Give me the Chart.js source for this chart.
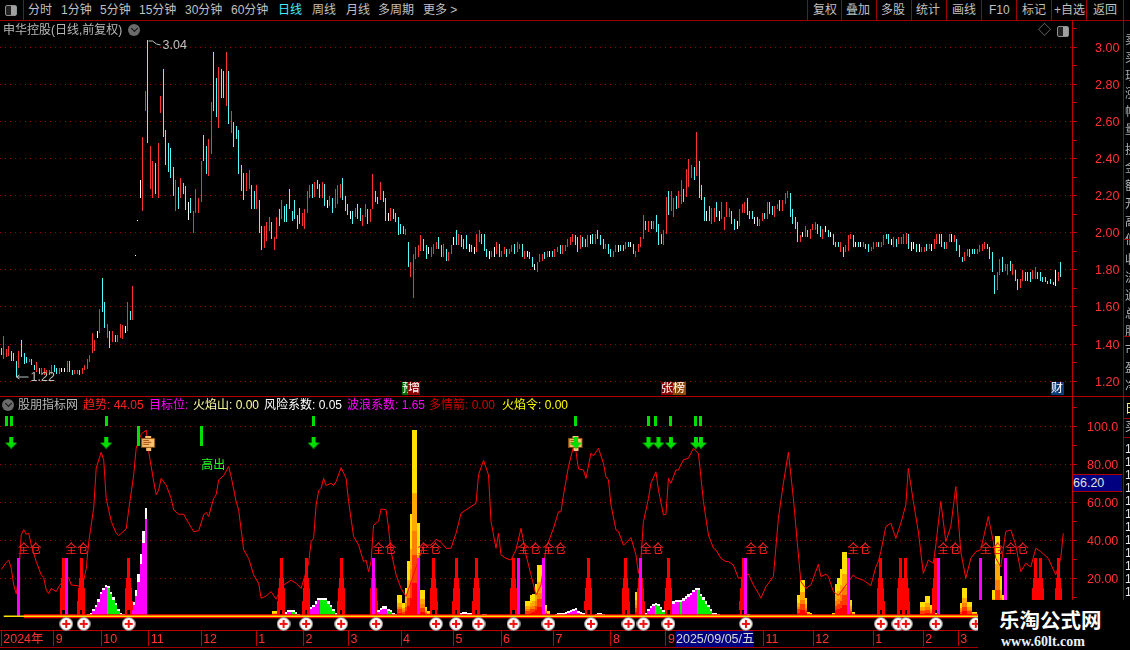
<!DOCTYPE html>
<html lang="zh">
<head>
<meta charset="utf-8">
<title>申华控股</title>
<script src="https://cdn.jsdelivr.net/npm/chart.js@4"></script>
<style>
html,body{margin:0;padding:0;background:#000;overflow:hidden}
#stage{position:relative;width:1130px;height:650px;background:#000;overflow:hidden;font-family:"Liberation Sans","Noto Sans CJK SC",sans-serif;font-size:12px;color:#c0c0c0}
canvas{position:absolute;left:0;display:block}
.t{position:absolute;white-space:nowrap;line-height:14px}
.l{position:absolute;background:#b00000}
.b{position:absolute;overflow:hidden;color:#fff;line-height:13px;font-size:12px;white-space:nowrap}
</style>
</head>
<body>
<div id="stage">
<canvas id="priceCanvas" width="1130" height="375" style="top:21px"></canvas>
<canvas id="indCanvas" width="1130" height="254" style="top:396px"></canvas>
<div id="chrome"></div>
</div>
<script>
/* ---------- candles: high / low / kind (r up, c down, w flat) ---------- */
const highsA=[1.38,1.445,1.375,1.39,1.36,1.35,1.31,1.365,1.42,1.35,
1.33,1.32,1.32,1.285,1.305,1.27,1.27,1.27,1.26,1.26,
1.285,1.285,1.27,1.27,1.27,1.27,1.31,1.31,1.26,1.26,
1.26,1.26,1.27,1.285,1.32,1.34,1.46,1.42,1.47,1.59,
1.755,1.625,1.51,1.47,1.47,1.45,1.45,1.51,1.505,1.495,
1.625,1.58,1.715,1.88,2.07,2.283,2.515,2.765,3.04,2.47,
2.385,2.375,2.483,2.735,2.883,2.553,2.483,2.455,2.353,2.283,
2.245,2.294,2.27,2.255,2.165,2.19,2.115,2.235,2.19,2.385,
2.53,2.47,2.505,2.705,2.975,2.835,2.895,2.885,2.87,2.975,
2.87,2.655,2.6,2.575,2.553,2.365,2.325,2.325,2.34,2.26,
2.225,2.26,2.175,2.035,2.035,2.06,2.085,2.06,1.975,2.085];
const lowsA=[1.34,1.32,1.33,1.335,1.31,1.31,1.22,1.27,1.33,1.295,
1.30,1.305,1.285,1.26,1.25,1.24,1.235,1.235,1.235,1.235,
1.24,1.25,1.24,1.24,1.25,1.25,1.25,1.25,1.235,1.24,
1.24,1.235,1.24,1.26,1.265,1.305,1.35,1.365,1.435,1.46,
1.575,1.485,1.435,1.38,1.41,1.41,1.41,1.435,1.425,1.46,
1.47,1.53,1.53,1.875,2.065,2.186,2.115,2.655,2.483,2.235,
2.19,2.21,2.19,2.645,2.515,2.365,2.33,2.295,2.2,2.115,
2.13,2.186,2.21,2.125,2.07,2.105,2.0,2.105,2.105,2.165,
2.385,2.315,2.305,2.425,2.655,2.625,2.565,2.725,2.725,2.685,
2.585,2.54,2.465,2.505,2.315,2.225,2.175,2.225,2.235,2.13,
2.13,2.13,2.0,1.905,1.92,1.955,2.01,1.965,1.905,1.965];
const kindsA="crrrcccrcc"+"crccrcrrrr"+"rccrwwrccr"+"rcrrrrrrwr"+"ccrcrcrrrw"+"rcrwwwrrcr"+"rcrrcccccr"+"crccwcrrrr"+"ccrrccrccr"+"crcccccrrc"+"crccrrrcrr";

const highsB=[2.126,2.175,2.142,2.153,2.234,2.115,2.175,2.094,2.132,2.105,
2.126,2.223,2.256,2.261,2.272,2.283,2.261,2.272,2.261,2.175,
2.2,2.186,2.234,2.256,2.261,2.294,2.2,2.153,2.115,2.115,
2.132,2.153,2.132,2.094,2.153,2.126,2.126,2.315,2.223,2.191,
2.272,2.223,2.186,2.105,2.132,2.126,2.105,2.083,2.045,2.034,
2.023,1.953,1.845,1.883,1.921,1.932,1.986,1.964,1.932,1.921,
1.921,1.942,1.953,1.975,1.932,1.942,1.915,1.894,1.932,1.975,
2.013,1.991,1.986,1.964,1.986,1.942,1.932,1.921,1.991,2.013,
1.991,1.991,1.915,1.904,1.904,1.921,1.953,1.942,1.904,1.921,
1.915,1.915,1.932,1.942,1.953,1.942,1.942,1.904,1.904,1.894,
1.872,1.834,1.845,1.883,1.883,1.894,1.904,1.904,1.904,1.915,
1.921];
const lowsB=[2.034,2.072,2.056,2.056,2.126,2.061,2.072,2.023,2.045,2.034,
2.023,2.105,2.186,2.186,2.191,2.234,2.186,2.186,2.142,2.132,
2.142,2.105,2.132,2.153,2.186,2.175,2.115,2.094,2.072,2.045,
2.083,2.072,2.061,2.034,2.083,2.045,2.056,2.126,2.164,2.153,
2.175,2.164,2.061,2.061,2.061,2.072,2.056,1.986,1.991,1.991,
1.986,1.813,1.764,1.65,1.861,1.872,1.904,1.904,1.861,1.883,
1.872,1.883,1.915,1.915,1.872,1.872,1.85,1.85,1.883,1.932,
1.932,1.932,1.926,1.915,1.915,1.894,1.894,1.883,1.894,1.953,
1.942,1.904,1.872,1.861,1.872,1.872,1.883,1.872,1.872,1.883,
1.872,1.883,1.894,1.883,1.894,1.915,1.872,1.861,1.872,1.861,
1.813,1.802,1.786,1.845,1.85,1.861,1.872,1.872,1.872,1.872,
1.894];
const kindsB="crcccccccr"+"rrrcrccrcw"+"rcrrrcccwc"+"rccrrcrrcc"+"rccwrccccc"+"rcrrrrrccw"+"rrrccrcrrw"+"crcccwcwrr"+"cccwrwrcrr"+"crrcrrcrwc"+"cwrrrcrwcr"+"r";

const highsC=[1.932,1.932,1.932,1.964,1.975,1.991,1.986,1.975,1.986,1.975,
1.964,1.986,1.986,1.991,1.991,2.013,1.986,1.964,1.942,1.942,
1.915,1.904,1.932,1.932,1.932,1.932,1.953,1.953,1.953,1.942,
1.904,1.942,1.975,2.094,2.061,2.061,2.061,2.061,2.094,2.045,
1.991,2.013,2.191,2.223,2.223,2.186,2.2,2.223,2.283,2.234,
2.342,2.396,2.364,2.353,2.542,2.386,2.256,2.191,2.115,2.142,
2.132,2.132,2.164,2.115,2.164,2.083,2.164,2.132,2.115,2.072,
2.061,2.126,2.153,2.164,2.186,2.115,2.115,2.083,2.083,2.072,
2.105,2.105,2.164,2.164,2.142,2.142,2.153,2.175,2.175,2.213,
2.223,2.213,2.126,2.083,2.056,1.986,2.002,2.034,2.013,2.023,
2.045,2.056,2.045,2.034,2.023,2.034,2.013,2.002,1.991,1.953];
const lowsC=[1.883,1.883,1.904,1.921,1.932,1.953,1.932,1.894,1.915,1.921,
1.921,1.921,1.942,1.942,1.942,1.964,1.932,1.915,1.915,1.883,
1.872,1.872,1.894,1.894,1.904,1.904,1.915,1.921,1.921,1.883,
1.872,1.894,1.921,1.964,2.013,2.002,2.023,2.023,2.002,1.932,
1.942,1.932,1.991,2.094,2.115,2.083,2.126,2.132,2.153,2.164,
2.191,2.245,2.294,2.283,2.304,2.186,2.175,2.061,2.061,2.061,
2.045,2.056,2.083,2.061,2.072,2.013,2.083,2.083,2.045,2.013,
2.023,2.034,2.105,2.105,2.094,2.072,2.072,2.045,2.034,2.034,
2.061,2.072,2.072,2.099,2.094,2.083,2.126,2.115,2.115,2.153,
2.186,2.083,2.045,2.023,1.953,1.953,1.975,1.975,1.975,1.964,
2.013,2.013,1.991,1.975,1.964,2.002,1.975,1.975,1.932,1.921];
const kindsC="crrrrrccrc"+"crwcrcccrc"+"crrwccrcwc"+"rrrrcrcrcc"+"crrcrrcrrc"+"rrrcrcccwc"+"rrcwrrrrcc"+"wrrrcccwcr"+"rcrccrrcrr"+"rccccrwrcr"+"rrccrwcwcc";

const highsD=[1.953,1.953,1.921,1.932,1.986,1.991,1.986,1.953,1.953,1.953,1.953,1.942,1.937,1.921,1.953,1.953,1.953,1.953,1.986,1.991,1.991,1.964,1.975,1.964,1.975,1.975,1.991,2.0,1.991,1.953,1.953,1.942,1.937,1.921,1.921,1.942,1.942,1.942,1.964,1.991,1.991,1.991,1.953,1.953,1.991,1.991,1.986,1.964,1.932,1.872,1.894,1.915,1.91,1.915,1.915,1.915,1.932,1.937,1.953,1.937,1.921,1.894,1.775,1.786,1.861,1.872,1.834,1.834,1.85,1.834,1.802,1.753,1.753,1.802,1.791,1.786,1.791,1.802,1.813,1.786,1.786,1.759,1.764,1.742,1.753,1.732,1.802,1.791,1.845];
const lowsD=[1.921,1.894,1.872,1.894,1.904,1.964,1.926,1.921,1.926,1.926,1.921,1.915,1.894,1.904,1.915,1.921,1.926,1.926,1.932,1.964,1.937,1.932,1.926,1.921,1.942,1.937,1.942,1.942,1.91,1.904,1.91,1.894,1.899,1.894,1.899,1.904,1.91,1.904,1.915,1.942,1.942,1.926,1.915,1.915,1.953,1.953,1.953,1.904,1.872,1.845,1.85,1.877,1.872,1.888,1.883,1.883,1.894,1.904,1.915,1.91,1.861,1.786,1.672,1.694,1.775,1.786,1.796,1.775,1.796,1.775,1.742,1.694,1.705,1.742,1.742,1.742,1.732,1.753,1.753,1.753,1.742,1.737,1.732,1.726,1.726,1.721,1.715,1.742,1.764];
const kindsD="crcrrrcwcwrccrrrcrrccwrcrrrrcwwcwrrcrwrrcccrrwrcccrrcccrrrrcccc"+"rrcrrcrccrrcccrrccc"+"ccccwrcr";

/* ---------- axes ---------- */
const priceTicks=[1.2,1.3,1.4,1.5,1.6,1.7,1.8,1.9,2.0,2.1,2.2,2.3,2.4,2.5,2.6,2.7,2.8,2.9,3.0,3.1];
const priceTickLabels={1.2:"1.20",1.4:"1.40",1.6:"1.60",1.8:"1.80",2:"2.00",2.2:"2.20",2.4:"2.40",2.6:"2.60",2.8:"2.80",3:"3.00"};
const indTicks=[10,20,30,40,50,60,70,80,90,100,110];
const indTickLabels={20:"20.00",40:"40.00",60:"60.00",80:"80.00",100:"100.0"};
const monthIdx=[0,21,40,59,80,102,121,139,160,181,200,221,244,266,305,325,349,369,383];
const monthLabels=["2024年","9","10","11","12","1","2","3","4","5","6","7","8","9","11","12","1","2","3"];

/* ---------- indicator pane: trend line ---------- */
const trendIdx=[0,2,3,4,5,6,7,8,9,10,11,12,14,16,17,18,19,20,22,23,25,27,28,31,32,34,35,37,38,40,41,42,44,46,47,50,51,53,54,56,58,59,61,62,63,64,66,68,69,71,73,75,77,79,81,82,83,85,86,87,89,91,92,94,95,97,99,101,103,104,106,108,110,111,
113,116,118,120,123,124,125,126,127,128,129,130,132,133,134,136,138,139,141,143,145,146,147,148,149,151,152,154,155,156,158,160,162,169,172,174,176,178,180,182,184,186,188,190,191,193,195,196,198,199,200,202,204,206,208,210,212,214,216,218,221,223,
224,225,227,229,230,231,233,234,236,237,239,241,242,243,244,246,247,249,250,252,254,255,256,257,259,260,262,263,265,266,267,268,270,271,273,275,277,279,281,283,285,286,288,290,291,293,295,297,299,301,303,304,306,309,311,313,315,317,319,320,322,324,327,328,330,331,333,335,
341,342,345,348,350,351,352,354,356,358,360,362,363,365,367,369,371,373,374,376,378,380,382,384,386,388,390,392,395,397,398,400,402,404,406,408,410,412,414,416,419,422,424,425];
const trendVal=[24.6,28.4,29.6,25.3,16.5,11.8,21.8,42.8,45.6,43.2,43.7,37.5,28.8,21.8,20.4,13.9,11.9,14.7,13,15.6,19,20.4,16.5,16,13,25,39,57,78,86.3,82.3,62,50,43.7,42.5,46,56,74.4,88.4,95.8,98,86.7,71,64,66.5,72.6,69,62,56,53.7,53.7,49,44.6,45,53.3,54.7,52.5,62,64,71.8,74,78.8,73.5,60.4,56,35,30.5,21.8,17.4,9.5,10.7,13,9,12,
16.5,19,17.4,14.7,27.9,39.3,41,58.6,66,67.4,72.6,68.8,70,68.8,70.9,78.2,72.6,60.4,42,37.5,28.8,29.6,23.5,28.8,48,50,56.5,56,46.3,34,21.8,14.7,10.4,37.5,37.5,40.5,39,35.8,35.8,43.7,54.2,56,57.7,59.5,74.4,82,74.4,49.8,35.8,43.7,32.3,30.5,29.6,35,46.3,32.3,21.8,11.2,16.5,35.8,46.3,55,
55,63.9,78.8,89.3,86.7,77.5,77,72.6,85.8,84.4,88.4,80.5,73.5,71.8,58.6,45.4,44.6,37.5,38.4,41.4,32.3,22.6,30.5,49.8,62,70,76,66.5,53.3,53.7,72.6,70,77,77,82.3,83.2,88.4,85.8,60.4,42.8,35.8,35,30.5,28.8,28.8,27,20,20.9,22.3,16.5,12.1,9.5,15.6,20.9,51.6,70,86.3,62,32.3,18.2,14.7,16.5,27.4,20.9,22.1,20.9,13,11,
21.8,20.4,19,16.1,26,28.8,34,47.2,49,41,49,58.6,77.9,60.4,44.6,22.6,29.6,27.9,37.5,60.4,39.3,47.2,68.2,34,20,30.5,34,35,52.5,39.3,30.5,26,44.6,45.4,37.5,23.5,27.9,26,35.8,34,30.5,21.8,30.5,43.7];

/* ---------- indicator pane: red spikes, magenta bars ---------- */
const spikeCenter=[25,32,51,112,122,136,149,173,182,190,205,235,250,256,267,297,352,360,362,374,414,416,423];
const spikeLegTop=5;
const spikeBandFrom=[5,5,5,3.5];
const spikeBandTo=[30.5,20,15,8];
const pinkIdx=[7,26,149,167,207,217,256,298,339,375,392,402];
const pinkTop=30.5;

/* ---------- flames ---------- */
const flameIdx=[109,110,159,160,161,162,163,164,165,166,167,168,169,170,171,210,211,212,213,214,215,216,217,218,219,254,255,319,320,321,322,323,324,333,334,335,336,337,338,339,340,341,368,369,370,371,372,373,374,384,385,386,387,388,389,390,391,397,398,399,400,401];
const flameTop=[3,3,11,11,7,15,29,54,98,98,49,14,14,5,3,8,8,11,12,17,27,27,17,6,3,13,13,11,19,19,9.5,2.5,1.5,2,17,20,25,34,34,8.6,8.6,2.5,7.7,7.7,10.7,10.7,6,6,2,7,14.7,14.7,7.7,7.7,2.5,2.5,1,14,42,42,21,11];

/* ---------- humps ---------- */
const humpIdx=[35,36,37,38,39,40,41,42,43,44,45,46,47,48,49,114,115,116,117,118,119,123,124,125,126,127,128,129,130,131,132,133,134,135,151,152,153,154,155,156,157,158,183,184,185,186,187,188,189,193,194,195,222,223,224,225,226,227,228,229,230,231,232,233,234,238,239,240,241,242,258,259,260,261,262,263,264,265,268,269,270,271,272,273,274,275,276,277,278,279,280,281,282,283,284,285,286,287,298,299,300,301,302];
const humpTop=[1,2,4,6,9,13,15,16.5,16,13,10,7,4,2,1,2.5,3.5,3.5,3.5,2.5,1,3,5,6,8,9.8,9.8,9.8,9.8,8,6,4,2,1,3.5,4.5,5.4,5.4,4,3.5,2,1.3,1,2,2.5,2.5,2,1.5,1,1.2,1,0.8,1,1.5,1.5,2,2.5,3,3.5,4,4.5,3,2.5,2,1,1,1.5,1.5,1,0.8,2,4,5.5,6.5,7,6.5,5,3.5,6,8,8.6,8.6,8.6,9.5,10.5,11.5,12.5,14,15,15,12,10,8,6,4,2,1.5,1,1,1,0.8,0.8,0.6];
const humpKind="mmmmmmmmggggggg"+"mmmggg"+"mmmmmgggggggg"+"mmmmgggg"+"mmmmggg"+"mmm"+"mmmmmmmmmmggg"+"mmmmm"+"mmmmgggg"+"mmmmgmmmmmmggggggggg"+"mmmmm";
const tallIdx=[52,53,54,55,56,57,58];
const tallTop=[7.7,7.7,14,22,33,45,57];
const tallBody=[6,6,10.5,18,27.4,38.5,51];

/* ---------- signals and icons ---------- */
const signalIdx=[2,4,42,125,230,259,262,268,278,280];
const signalFrom=100.2, signalTo=105.2;
const tallSignalIdx=[55,80];
const tallSignalFrom=89.6, tallSignalTo=100;
const arrowIdx=[4,42,125,230,259,263,268,278,280];
const arrowVal=91.4;
const noteIdx=[59,230];
const noteVal=91;
const plusIdx=[26,33,51,113,122,136,150,174,182,191,205,219,236,251,257,267,298,352,359,362,374,390];
const plusVal=-4;
const holdLabelIdx=[7,26,149,167,207,217,256,298,339,375,392,402];
const holdLabelVal=35.5;

const N_PRICE=424, N_IND=429;
const highs=[...highsA,...highsB,...highsC,...highsD];
const lows=[...lowsA,...lowsB,...lowsC,...lowsD];
const kinds=kindsA+kindsB+kindsC+kindsD;
const candleColors={r:"#ff3232",c:"#54fcfc",w:"#ffffff"};

function sparse(idx,vals,n){const a=new Array(n).fill(null);idx.forEach((k,j)=>{a[k]=vals[j];});return a;}
function iconCanvas(w,h,draw){const c=document.createElement("canvas");c.width=w;c.height=h;draw(c.getContext("2d"));return c;}

const plusIcon=iconCanvas(14,14,g=>{
  g.fillStyle="#fff";g.strokeStyle="#8a8a8a";g.lineWidth=1;
  g.beginPath();g.arc(7,7,6.4,0,Math.PI*2);g.fill();g.stroke();
  g.fillStyle="#f01010";g.fillRect(3,6,8,2);g.fillRect(6,3,2,8);
});
const arrowIcon=iconCanvas(12,12,g=>{
  g.fillStyle="#00e000";g.fillRect(4,0,4,6);
  g.beginPath();g.moveTo(0,6);g.lineTo(12,6);g.lineTo(6,12);g.closePath();g.fill();
});
const noteIcon=iconCanvas(15,15,g=>{
  g.fillStyle="#ffc070";g.fillRect(0,2,14,10);g.fillRect(4,0,6,2);g.fillRect(5,12,5,3);
  g.fillStyle="#a05010";g.fillRect(2,4,6,1);g.fillRect(2,6,8,1);g.fillRect(2,8,6,1);
  g.strokeStyle="#8a5010";g.strokeRect(0.5,2.5,13,9);
});

/* snap bars to whole pixels so that thin bars stay crisp */
const snapBars={id:"snapBars",afterDatasetsUpdate(chart){
  chart.data.datasets.forEach((ds,k)=>{
    const meta=chart.getDatasetMeta(k);
    if(meta.type!=="bar")return;
    meta.data.forEach(el=>{
      if(!isFinite(el.x)||!isFinite(el.y)||!isFinite(el.base))return;
      const l=Math.round(el.x-el.width/2), r=Math.max(l+1,Math.round(el.x+el.width/2));
      el.x=(l+r)/2; el.width=r-l;
      let t=Math.round(Math.min(el.y,el.base)), b=Math.round(Math.max(el.y,el.base));
      if(b<=t)b=t+1;
      el.y=t; el.base=b;
    });
  });
}};

const barBase={type:"bar",grouped:false,barPercentage:1,categoryPercentage:1,borderWidth:0,inflateAmount:0,clip:false};
function yAxis(cfg){
  return {position:"right",min:cfg.min,max:cfg.max,
    afterBuildTicks:s=>{s.ticks=cfg.ticks.map(v=>({value:v}));},
    afterFit:s=>{s.width=58;s.paddingTop=0;s.paddingBottom=0;s.paddingLeft=0;s.paddingRight=0;},
    border:{color:"#c00000",width:1,dash:[1,4]},
    grid:{color:c=>cfg.labels[c.tick&&c.tick.value]?"#9a0000":"rgba(0,0,0,0)",tickColor:"#c00000",tickLength:5,lineWidth:1,drawOnChartArea:true},
    ticks:{color:"#ff3232",padding:cfg.padding,labelOffset:1,autoSkip:false,font:{family:'"Liberation Sans"',size:12.5},callback:v=>cfg.labels[v]||""}
  };
}
const commonOpts={responsive:false,animation:false,devicePixelRatio:1,events:[],layout:{padding:0,autoPadding:false}};

/* ---------- price chart ---------- */
const priceLabels=Array.from({length:N_PRICE},(_,i)=>"D"+i);
const priceNotes={id:"priceNotes",afterDatasetsDraw(chart){
  const g=chart.ctx,x=chart.scales.x,y=chart.scales.y;
  const iH=highs.indexOf(Math.max(...highs)), iL=lows.indexOf(Math.min(...lows));
  g.save();g.strokeStyle="#c0c0c0";g.fillStyle="#c0c0c0";g.lineWidth=1;g.font='12.5px "Liberation Sans"';g.textBaseline="middle";g.textAlign="left";
  let px=Math.round(x.getPixelForValue(iH))+0.5, py=Math.round(y.getPixelForValue(highs[iH]));
  g.beginPath();g.moveTo(px,py+1);g.lineTo(px+4,py+1);g.lineTo(px+8,py+4);g.lineTo(px+12,py+5);g.stroke();
  g.fillText(highs[iH].toFixed(2),px+14,py+6);
  px=Math.round(x.getPixelForValue(iL))+0.5; py=Math.round(y.getPixelForValue(lows[iL]));
  g.beginPath();g.moveTo(px,py);g.lineTo(px+12,py);g.moveTo(px,py);g.lineTo(px+3,py-2);g.moveTo(px,py);g.lineTo(px+3,py+2);g.stroke();
  g.fillText(lows[iL].toFixed(2),px+14,py+1);
  g.restore();
}};
new Chart(document.getElementById("priceCanvas"),{
  type:"bar",
  data:{labels:priceLabels,datasets:[Object.assign({},barBase,{
    label:"K线",
    data:highs.map((h,i)=>[lows[i],h]),
    backgroundColor:Array.from(kinds).map(k=>candleColors[k]),
    barThickness:1
  })]},
  options:Object.assign({},commonOpts,{
    plugins:{legend:{display:false},tooltip:{enabled:false},title:{display:false}},
    scales:{
      x:{display:false,offset:true},
      y:yAxis({min:1.12,max:3.142,ticks:priceTicks,labels:priceTickLabels,padding:18})
    }
  }),
  plugins:[snapBars,priceNotes]
});

/* ---------- indicator chart ---------- */
const indLabels=Array.from({length:N_IND},(_,i)=>"D"+i);
const flameBands=[[0,0.18,"#ff0000"],[0.18,0.33,"#ff3c00"],[0.33,0.46,"#ff8000"],[0.46,0.66,"#ffa800"],[0.66,1,"#ffe000"]];
const flameSets=flameBands.map((b,k)=>Object.assign({},barBase,{
  label:"火焰"+k,order:12,
  data:sparse(flameIdx,flameTop.map(t=>[t*b[0],t*b[1]]),N_IND),
  backgroundColor:b[2]
}));
const capOf=t=>Math.max(0,t-1.3);
const humpColors=new Array(N_IND).fill("#ff00ff");
humpIdx.forEach((k,j)=>{humpColors[k]=humpKind[j]==="g"?"#00f000":"#ff00ff";});
const spikeLegs=new Array(N_IND).fill(null);
spikeCenter.forEach(c=>{spikeLegs[c-1]=[0,spikeLegTop];spikeLegs[c+1]=[0,spikeLegTop];});
const spikeThick=[3,5,7,8];
const spikeSets=spikeBandTo.map((top,k)=>Object.assign({},barBase,{
  label:"多情箭"+k,order:8,
  data:sparse(spikeCenter,spikeCenter.map(()=>[spikeBandFrom[k],top]),N_IND),
  backgroundColor:"#ff0000",barThickness:spikeThick[k]
}));

const indNotes={id:"indNotes",afterDatasetsDraw(chart){
  const g=chart.ctx,x=chart.scales.x,y=chart.scales.y;
  g.save();g.textBaseline="middle";g.textAlign="left";
  g.font='12px "Noto Sans CJK SC"';g.fillStyle="#ff2020";
  const yy=y.getPixelForValue(holdLabelVal);
  holdLabelIdx.forEach(i=>{g.fillText("全仓",x.getPixelForValue(i)-1,yy);});
  g.fillStyle="#20ff20";
  g.fillText("高出",x.getPixelForValue(80),y.getPixelForValue(80));
  g.restore();
}};
new Chart(document.getElementById("indCanvas"),{
  type:"bar",
  data:{labels:indLabels,datasets:[
    ...flameSets,
    Object.assign({},barBase,{label:"波浪",order:11,data:sparse(humpIdx,humpTop.map(t=>[0,capOf(t)]),N_IND),backgroundColor:humpColors}),
    Object.assign({},barBase,{label:"波浪顶",order:11,data:sparse(humpIdx,humpTop.map(t=>[capOf(t),t]),N_IND),backgroundColor:"#ffffff"}),
    Object.assign({},barBase,{label:"目标",order:11,data:sparse(tallIdx,tallBody.map(t=>[0,t]),N_IND),backgroundColor:"#ff00ff"}),
    Object.assign({},barBase,{label:"目标顶",order:11,data:sparse(tallIdx,tallTop.map((t,j)=>[tallBody[j],t]),N_IND),backgroundColor:"#ffffff"}),
    {type:"line",label:"趋势",order:10,data:sparse(trendIdx,trendVal,N_IND),spanGaps:true,borderColor:"#ff0808",borderWidth:1,pointRadius:0,tension:0,fill:false,clip:false},
    Object.assign({},barBase,{label:"多情箭脚",order:8,data:spikeLegs,backgroundColor:"#ff0000"}),
    ...spikeSets,
    Object.assign({},barBase,{label:"全仓",order:7,data:sparse(pinkIdx,pinkIdx.map(()=>[0,pinkTop]),N_IND),backgroundColor:"#ff00ff",barThickness:3}),
    {type:"line",label:"基线",order:6,data:indLabels.map((_,i)=>i>=9?0:null),borderColor:"#ff0000",borderWidth:4,pointRadius:0,clip:false},
    {type:"line",label:"基线2",order:5,data:indLabels.map((_,i)=>i>=1?0:null),borderColor:"#ffe000",borderWidth:1.4,pointRadius:0,clip:false},
    Object.assign({},barBase,{label:"信号",order:4,data:sparse(signalIdx,signalIdx.map(()=>[signalFrom,signalTo]),N_IND),backgroundColor:"#00e000",barThickness:3}),
    Object.assign({},barBase,{label:"信号2",order:4,data:sparse(tallSignalIdx,tallSignalIdx.map(()=>[tallSignalFrom,tallSignalTo]),N_IND),backgroundColor:"#00e000",barThickness:3}),
    {type:"line",label:"提示",order:3,showLine:false,data:sparse(noteIdx,noteIdx.map(()=>noteVal),N_IND),pointStyle:noteIcon,pointRadius:7,clip:false},
    {type:"line",label:"箭头",order:2,showLine:false,data:sparse(arrowIdx,arrowIdx.map(()=>arrowVal),N_IND),pointStyle:arrowIcon,pointRadius:6,clip:false},
    {type:"line",label:"加仓",order:1,showLine:false,data:sparse(plusIdx,plusIdx.map(()=>plusVal),N_IND),pointStyle:plusIcon,pointRadius:6.5,clip:false}
  ]},
  options:Object.assign({},commonOpts,{
    plugins:{legend:{display:false},tooltip:{enabled:false},title:{display:false}},
    scales:{
      x:{offset:true,
        afterBuildTicks:s=>{s.ticks=monthIdx.map(v=>({value:v}));},
        afterFit:s=>{s.height=20;s.paddingLeft=0;s.paddingRight=0;s.paddingTop=0;s.paddingBottom=0;},
        border:{color:"#c00000",width:1},
        grid:{offset:false,drawOnChartArea:false,tickColor:"#c00000",tickLength:16},
        ticks:{color:"#ff3232",autoSkip:false,maxRotation:0,minRotation:0,align:"start",padding:-14,labelOffset:2,font:{family:'"Liberation Sans","Noto Sans CJK SC"',size:12.5},
          callback:v=>{const j=monthIdx.indexOf(v);return j>=0?monthLabels[j]:"";}}
      },
      y:yAxis({min:-7.2,max:115.9,ticks:indTicks,labels:indTickLabels,padding:10})
    }
  }),
  plugins:[snapBars,indNotes]
});

/* ---------- window chrome: real text around the charts ---------- */
const chrome=document.getElementById("chrome");
function text(s,x,y,color,extra){const d=document.createElement("div");d.className="t";d.textContent=s;d.style.left=x+"px";d.style.top=(y-7)+"px";if(color)d.style.color=color;if(extra)Object.assign(d.style,extra);chrome.appendChild(d);return d;}
function line(x,y,w,h,color){const d=document.createElement("div");d.className="l";Object.assign(d.style,{left:x+"px",top:y+"px",width:w+"px",height:h+"px"});if(color)d.style.background=color;chrome.appendChild(d);}
function badge(s,x,y,w,h,bg){const d=document.createElement("div");d.className="b";d.textContent=s;Object.assign(d.style,{left:x+"px",top:y+"px",width:w+"px",height:h+"px",background:bg});chrome.appendChild(d);}
function circleIcon(x,y){const d=document.createElement("div");Object.assign(d.style,{position:"absolute",left:(x-6)+"px",top:(y-6)+"px",width:"12px",height:"12px",borderRadius:"6px",background:"#6a6a6a"});const e=document.createElement("div");Object.assign(e.style,{position:"absolute",left:"3.5px",top:"2px",width:"4px",height:"4px",borderRight:"1px solid #111",borderBottom:"1px solid #111",transform:"rotate(45deg)"});d.appendChild(e);chrome.appendChild(d);}
function panelIcon(x,y){const d=document.createElement("div");Object.assign(d.style,{position:"absolute",left:x+"px",top:y+"px",width:"10px",height:"9px",border:"1px solid #909090",borderRadius:"2px",background:"linear-gradient(90deg,#222 0,#222 55%,#a0a0a0 55%,#a0a0a0 100%)"});chrome.appendChild(d);}

const toolLeft=["分时","1分钟","5分钟","15分钟","30分钟","60分钟","日线","周线","月线","多周期","更多 >"];
const toolLeftX=[28,61,100,139,185,231,278,312,346,378,423];
toolLeft.forEach((s,i)=>text(s,toolLeftX[i],10,s==="日线"?"#40f0ff":"#c0c0c0"));
const toolRight=["复权","叠加","多股","统计","画线","F10","标记","+自选","返回"];
const toolRightX=[813,846,881,916,952,989,1022,1054,1093];
toolRight.forEach((s,i)=>text(s,toolRightX[i],10,"#c0c0c0"));
[807,841,876,911,946,981,1016,1051,1086].forEach(x=>line(x,0,1,20,"#a00000"));
line(23,0,1,20,"#a00000");
line(0,20,1130,1,"#a00000");
line(0,396,1130,1,"#b00000");
line(1123,0,1,600,"#a00000");
line(1072,396,1,234,"#c00000");
line(0,647,1130,1,"#a00000");
panelIcon(5,5);
panelIcon(1057,26);
text("申华控股(日线,前复权)",3,30,"#b8b8b8");
circleIcon(134,30);
text("◇",1038,30,"#808080",{fontSize:"13px"});

circleIcon(8,405);
text("股朋指标网",18,405,"#b8b8b8");
text("趋势: 44.05",83,405,"#ff2020");
text("目标位:",149,405,"#ff00ff");
text("火焰山: 0.00",193,405,"#ffffa0");
text("风险系数: 0.05",264,405,"#ffffff");
text("波浪系数: 1.65",347,405,"#ff00ff");
text("多情箭: 0.00",429,405,"#d00000");
text("火焰令: 0.00",502,405,"#ffff00");

badge("预",402,382,6,13,"#007000");
badge("增",408,382,12,13,"#8b0000");
badge("张",661,382,12,13,"#8b0000");
badge("榜",673,382,13,13,"#8b4a00");
badge("财",1051,382,13,13,"#0a3c78");

/* crosshair read-outs */
const readout=document.createElement("div");
Object.assign(readout.style,{position:"absolute",left:"1073px",top:"474px",width:"49px",height:"16px",background:"#000080",color:"#e0e0e0",fontSize:"12.5px",lineHeight:"16px",borderTop:"1px solid #b00000",borderBottom:"1px solid #b00000"});
readout.textContent="66.20";chrome.appendChild(readout);
const dateBox=document.createElement("div");
Object.assign(dateBox.style,{position:"absolute",left:"676px",top:"631px",width:"77px",height:"16px",background:"#000080",color:"#d8d8d8",fontSize:"12.5px",lineHeight:"16px",textAlign:"center",whiteSpace:"nowrap"});
dateBox.textContent="2025/09/05/五";chrome.appendChild(dateBox);

/* clipped quote column on the far right */
const side=document.createElement("div");
Object.assign(side.style,{position:"absolute",left:"1125px",top:"21px",width:"5px",height:"579px",overflow:"hidden"});
chrome.appendChild(side);
const sideRows=["卖","买","现","涨","幅","量","换","金","额","开","高","低","收","流","通","总","股","市","盈","净"];
const sideRowsY=[12,30,48,66,84,102,122,140,158,176,194,212,232,250,268,286,304,322,340,358];
sideRowsY.forEach((y,i)=>{const d=document.createElement("div");d.className="t";d.textContent=sideRows[i];Object.assign(d.style,{left:"0",top:y+"px",color:"#b0b0b0"});side.appendChild(d);});
const sideFoot=document.createElement("div");
Object.assign(sideFoot.style,{position:"absolute",left:"1125px",top:"402px",width:"5px",color:"#ffff80",overflow:"hidden",lineHeight:"14px"});
sideFoot.textContent="日";chrome.appendChild(sideFoot);
[420,442,455,468,481,494,507,520,533,546,559,572,585].forEach((y,i)=>{const d=document.createElement("div");d.className="t";d.textContent=i?"1":"买";Object.assign(d.style,{left:"1125px",top:y+"px",width:"5px",overflow:"hidden",color:i?"#e8e8e8":"#c0c0c0"});chrome.appendChild(d);});
line(1123,418,7,1,"#a00000");line(1123,437,7,1,"#a00000");line(1123,239,7,1,"#a00000");line(1123,336,7,1,"#a00000");

/* publisher mark */
const mark=document.createElement("div");
Object.assign(mark.style,{position:"absolute",left:"978px",top:"600px",width:"152px",height:"50px",background:"#000"});
chrome.appendChild(mark);
const m1=document.createElement("div");
Object.assign(m1.style,{position:"absolute",left:"21px",top:"7px",fontFamily:'"Noto Sans CJK SC"',fontWeight:"700",fontSize:"20.5px",lineHeight:"24px",color:"#fff",whiteSpace:"nowrap"});
m1.textContent="乐淘公式网";mark.appendChild(m1);
const m2=document.createElement("div");
Object.assign(m2.style,{position:"absolute",left:"23px",top:"34px",fontFamily:'"Liberation Serif"',fontWeight:"700",fontSize:"14px",lineHeight:"16px",color:"#eaf2ff",whiteSpace:"nowrap"});
m2.textContent="www.60lt.com";mark.appendChild(m2);
</script>
</body>
</html>
